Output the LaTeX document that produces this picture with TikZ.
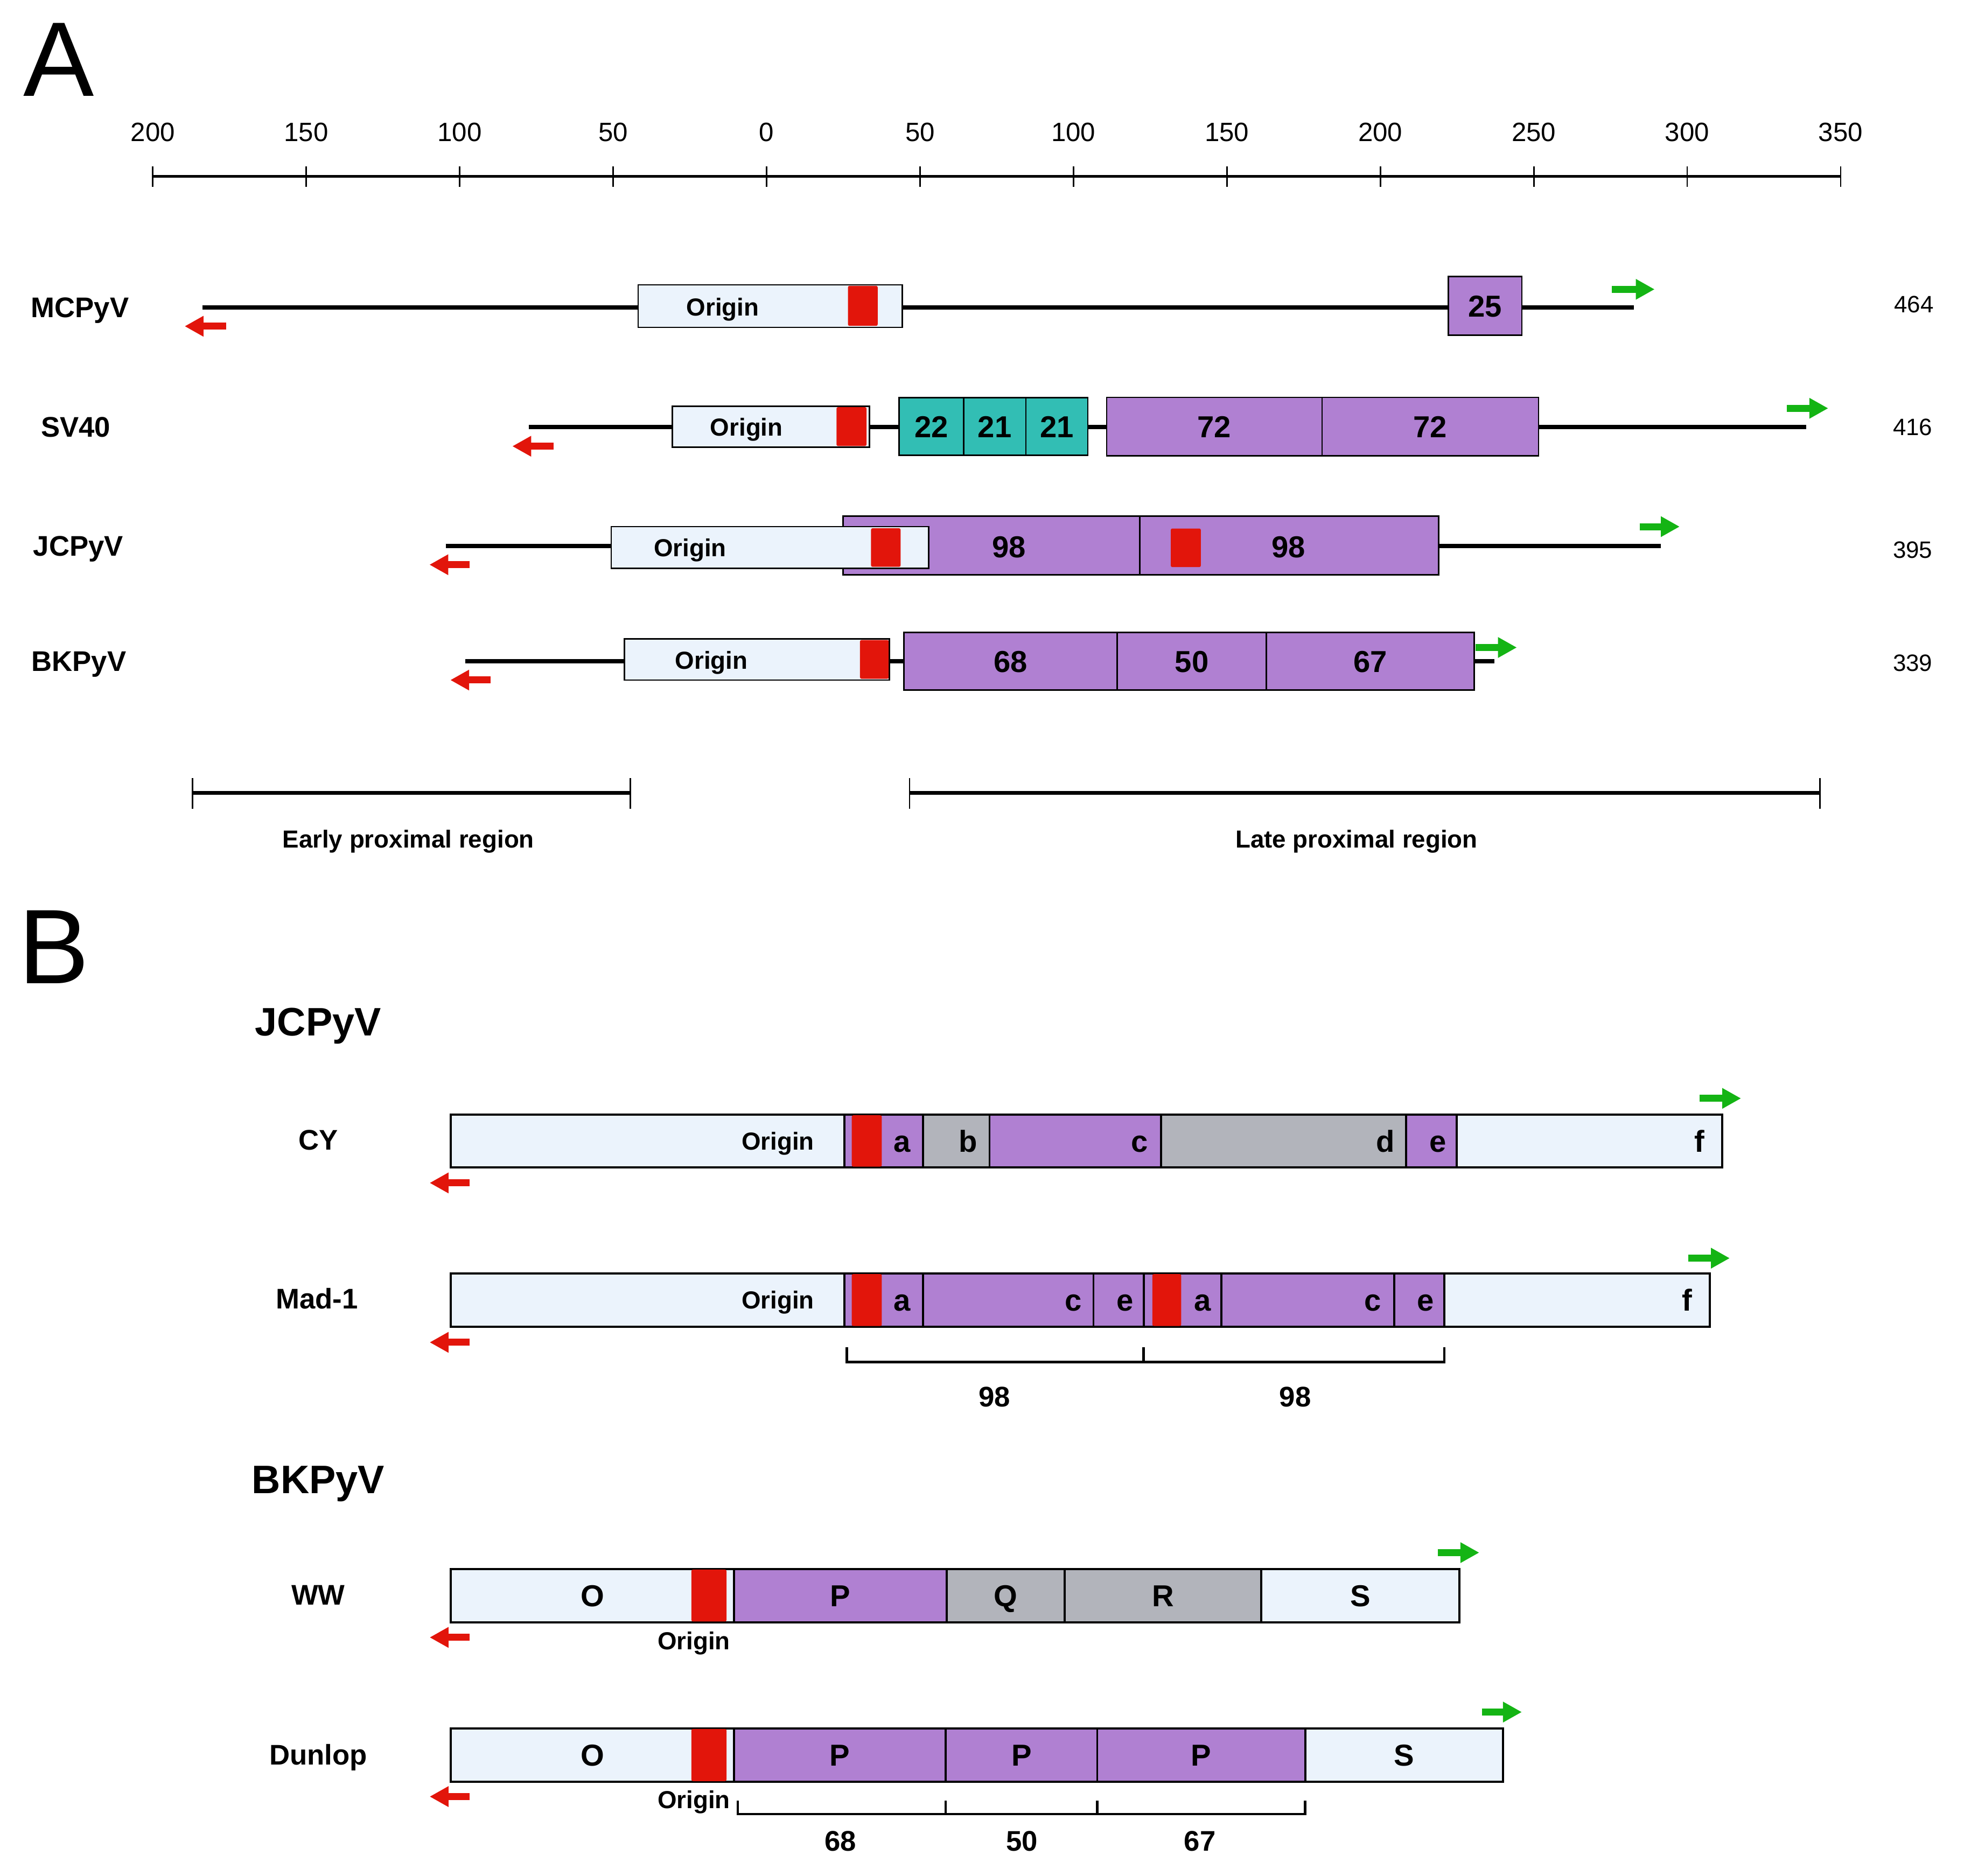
\documentclass[tikz,border=0pt]{standalone}
\usepackage{fontspec}
\setmainfont{Liberation Sans}
\usepackage{tikz}
\usetikzlibrary{arrows.meta}

\definecolor{oriblue}{RGB}{235,243,252}
\definecolor{orired}{RGB}{226,21,11}
\definecolor{enhpurple}{RGB}{176,128,210}
\definecolor{gcteal}{RGB}{50,190,180}
\definecolor{segray}{RGB}{178,180,187}
\definecolor{arrgreen}{RGB}{20,180,20}

% one unit of the picture in cm
\newcommand{\pxu}{0.023259cm}
% style, name, left, right, centre y, height, text
\newcommand{\seg}[7]{\node[#1, minimum width={(#4-#3)*\pxu}, minimum height={#6*\pxu}] (#2) at ({(#3+#4)/2},#5) {#7};}

\tikzset{
  every node/.style={inner sep=0pt},
  panel/.style={font=\fontsize{56}{60}\selectfont, text height=40.1pt, text depth=0pt},
  head/.style={font=\fontsize{21}{25}\selectfont\bfseries, text height=15pt, text depth=0pt},
  rowlab/.style={font=\fontsize{15}{18}\selectfont\bfseries, text height=10.7pt, text depth=0pt},
  axnum/.style={font=\fontsize{14}{17}\selectfont, text height=10pt, text depth=0pt},
  lenlab/.style={font=\fontsize{12.5}{15}\selectfont, text height=8.95pt, text depth=0pt},
  orilab/.style={font=\fontsize{13}{16}\selectfont\bfseries, text height=9.3pt, text depth=0pt},
  seglab/.style={font=\fontsize{16}{19}\selectfont\bfseries, text height=11.46pt, text depth=0pt},
  box/.style={draw=black, line width=0.8pt, seglab},
  ori/.style={box, fill=oriblue},
  enh/.style={box, fill=enhpurple},
  gc/.style={box, fill=gcteal},
  gap/.style={box, fill=segray},
  tata/.style={fill=orired, rounded corners=0.8pt},
  backbone/.style={line width=2.2pt},
  axis/.style={line width=1.4pt},
  tick/.style={line width=0.8pt},
  region/.style={line width=2pt},
  brk/.style={line width=1.3pt},
  earlyarr/.style={orired, line width=0.13cm, -{Triangle[width=0.36cm,length=0.35cm]}},
  latearr/.style={arrgreen, line width=0.13cm, -{Triangle[width=0.36cm,length=0.35cm]}},
}

\begin{document}
\begin{tikzpicture}[x=0.023259cm, y=-0.023259cm]
  \useasboundingbox (0,0) rectangle (1568,1497.5);

  % ---------- A ----------
  \node[panel] (pA) at (47,46.5) {A};

  % scale
  \coordinate (ax-s) at (122,141);
  \coordinate (ax-e) at (1469.5,141);
  \draw[axis] (ax-s) -- (ax-e);
  \foreach \lab [count=\i from 0] in {200,150,100,50,0,50,100,150,200,250,300,350} {
    \node[axnum] (n\i) at ({122+122.5*\i},105.5) {\lab};
    \draw[tick] ({122+122.5*\i},133) -- ({122+122.5*\i},149);
  }

  % MCPyV
  \node[rowlab] (mcpyv) at (63.8,245.5) {MCPyV};
  \coordinate (mc-s) at (161.5,245.5);
  \coordinate (mc-e) at (1304.6,245.5);
  \draw[backbone] (mc-s) -- (mc-e);
  \seg{ori}{mc-ori}{509.5}{720.5}{244.4}{34}{}
  \node[orilab] (mc-orit) at (577,245) {Origin};
  \seg{tata}{mc-tata}{677}{700.7}{244.2}{32}{}
  \seg{enh}{mc-25}{1156.3}{1215}{244.2}{47}{25}
  \draw[earlyarr] (180.6,260.5) -- (147.4,260.5);
  \draw[latearr] (1287,231) -- (1321,231);
  \node[lenlab] (mc-len) at (1528,243) {464};

  % SV40
  \node[rowlab] (sv40) at (60.5,341) {SV40};
  \coordinate (sv-s) at (422,341);
  \coordinate (sv-e) at (1442,341);
  \draw[backbone] (sv-s) -- (sv-e);
  \seg{ori}{sv-ori}{536.6}{694}{340.6}{32.7}{}
  \node[orilab] (sv-orit) at (596,341) {Origin};
  \seg{tata}{sv-tata}{667.8}{691.8}{340.6}{31}{}
  \seg{gc}{sv-22}{717.9}{769.4}{340.5}{46.3}{22}
  \seg{gc}{sv-21a}{769.4}{819}{340.5}{46.3}{21}
  \seg{gc}{sv-21b}{819}{868.5}{340.5}{46.3}{21}
  \seg{enh}{sv-72a}{883.5}{1055.5}{340.6}{46.6}{72}
  \seg{enh}{sv-72b}{1055.5}{1228.3}{340.6}{46.6}{72}
  \draw[earlyarr] (441.8,356.3) -- (409,356.3);
  \draw[latearr] (1426.5,326) -- (1459.6,326);
  \node[lenlab] (sv-len) at (1527,340.8) {416};

  % JCPyV
  \node[rowlab] (jcpyv) at (62.5,436) {JCPyV};
  \coordinate (jc-s) at (355.8,436);
  \coordinate (jc-e) at (1326,436);
  \draw[backbone] (jc-s) -- (jc-e);
  \seg{enh}{jc-98a}{673}{910}{435.6}{46.7}{}
  \seg{enh}{jc-98b}{910}{1148.4}{435.6}{46.7}{}
  \node[seglab] (jc-98at) at (805.7,436.4) {98};
  \node[seglab] (jc-98bt) at (1028.8,436.4) {98};
  \seg{ori}{jc-ori}{488}{741.5}{437.1}{33.3}{}
  \node[orilab] (jc-orit) at (551,437.5) {Origin};
  \seg{tata}{jc-tata1}{695.4}{719}{437.2}{30.8}{}
  \seg{tata}{jc-tata2}{934.7}{958.7}{437.4}{30.8}{}
  \draw[earlyarr] (375,450.9) -- (342.8,450.9);
  \draw[latearr] (1309,420.5) -- (1341,420.5);
  \node[lenlab] (jc-len) at (1527,439) {395};

  % BKPyV
  \node[rowlab] (bkpyv) at (63,528) {BKPyV};
  \coordinate (bk-s) at (371.5,528);
  \coordinate (bk-e) at (1193,528);
  \draw[backbone] (bk-s) -- (bk-e);
  \seg{ori}{bk-ori}{498.5}{710}{526.5}{33}{}
  \node[orilab] (bk-orit) at (568,527) {Origin};
  \seg{tata}{bk-tata}{686.6}{709.5}{526.5}{31}{}
  \seg{enh}{bk-68}{721.5}{892}{528}{46}{68}
  \seg{enh}{bk-50}{892}{1011}{528}{46}{50}
  \seg{enh}{bk-67}{1011}{1177}{528}{46}{67}
  \draw[earlyarr] (391.7,543) -- (359.5,543);
  \draw[latearr] (1178,517) -- (1211,517);
  \node[lenlab] (bk-len) at (1527,529) {339};

  % proximal regions
  \coordinate (ep-s) at (153.7,633.2);
  \coordinate (ep-e) at (503.2,633.2);
  \coordinate (lp-s) at (726.2,633.2);
  \coordinate (lp-e) at (1453,633.2);
  \draw[region] (ep-s) -- (ep-e);
  \draw[region] (lp-s) -- (lp-e);
  \foreach \x in {153.7,503.2,726.2,1453}
    \draw[tick] (\x,621.3) -- (\x,645.6);
  \node[orilab] (ep-lab) at (326,670) {Early proximal region};
  \node[orilab] (lp-lab) at (1083,670) {Late proximal region};

  % ---------- B ----------
  \node[panel] (pB) at (43,755) {B};
  \node[head] (jc-head) at (254,815.7) {JCPyV};

  \begin{scope}[box/.append style={line width=1.1pt}]
  % CY
  \node[rowlab] (cy) at (254,910) {CY};
  \seg{ori}{cy-o}{360}{674}{911}{42}{}
  \seg{enh}{cy-a}{674}{737}{911}{42}{}
  \seg{gap}{cy-b}{737}{790}{911}{42}{}
  \seg{enh}{cy-c}{790}{927}{911}{42}{}
  \seg{gap}{cy-d}{927}{1122.5}{911}{42}{}
  \seg{enh}{cy-e}{1122.5}{1163}{911}{42}{}
  \seg{ori}{cy-f}{1163}{1375}{911}{42}{}
  \seg{tata}{cy-tata}{680}{704}{911}{41}{}
  \node[orilab] (cy-orit) at (621,911) {Origin};
  \foreach \t/\x in {a/720,b/773,c/910,d/1106,e/1148,f/1357}
    \node[seglab] (cyl-\t) at (\x,911) {\t};
  \draw[latearr] (1357,877) -- (1390,877);
  \draw[earlyarr] (375,944.5) -- (343,944.5);

  % Mad-1
  \node[rowlab] (mad) at (253,1037) {Mad-1};
  \seg{ori}{md-o}{360}{674}{1038}{42.5}{}
  \seg{enh}{md-a1}{674}{737}{1038}{42.5}{}
  \seg{enh}{md-c1}{737}{873}{1038}{42.5}{}
  \seg{enh}{md-e1}{873}{913}{1038}{42.5}{}
  \seg{enh}{md-a2}{913}{975}{1038}{42.5}{}
  \seg{enh}{md-c2}{975}{1113}{1038}{42.5}{}
  \seg{enh}{md-e2}{1113}{1153}{1038}{42.5}{}
  \seg{ori}{md-f}{1153}{1365}{1038}{42.5}{}
  \seg{tata}{md-tata1}{680}{704}{1038}{41.5}{}
  \seg{tata}{md-tata2}{920}{943}{1038}{41.5}{}
  \node[orilab] (md-orit) at (621,1038) {Origin};
  \foreach \t/\x [count=\k] in {a/720,c/857,e/898,a/960,c/1096,e/1138,f/1347}
    \node[seglab] (mdl-\k) at (\x,1038) {\t};
  \draw[latearr] (1348,1004.6) -- (1381,1004.6);
  \draw[earlyarr] (375,1071.8) -- (343,1071.8);
  \draw[brk] (676,1075.6) -- (676,1087.6) -- (1153,1087.6) -- (1153,1075.6);
  \draw[brk] (913,1075.6) -- (913,1087.6);
  \node[rowlab] (md-98a) at (794,1115) {98};
  \node[rowlab] (md-98b) at (1034,1115) {98};

  \node[head] (bk-head) at (254,1181) {BKPyV};

  % WW
  \node[rowlab] (ww) at (254,1273.5) {WW};
  \seg{ori}{ww-o}{360}{586}{1274}{42.5}{O}
  \seg{enh}{ww-p}{586}{756}{1274}{42.5}{P}
  \seg{gap}{ww-q}{756}{850}{1274}{42.5}{Q}
  \seg{gap}{ww-r}{850}{1007}{1274}{42.5}{R}
  \seg{ori}{ww-s}{1007}{1165}{1274}{42.5}{S}
  \seg{tata}{ww-tata}{552}{580}{1274}{41.5}{}
  \node[orilab] (ww-orit) at (554,1310) {Origin};
  \draw[latearr] (1148,1239.7) -- (1181,1239.7);
  \draw[earlyarr] (375,1307.4) -- (343,1307.4);

  % Dunlop
  \node[rowlab] (dun) at (254,1401) {Dunlop};
  \seg{ori}{dn-o}{360}{586}{1401.3}{42.7}{O}
  \seg{enh}{dn-p1}{586}{755}{1401.3}{42.7}{P}
  \seg{enh}{dn-p2}{755}{876}{1401.3}{42.7}{P}
  \seg{enh}{dn-p3}{876}{1042}{1401.3}{42.7}{P}
  \seg{ori}{dn-s}{1042}{1200}{1401.3}{42.7}{S}
  \seg{tata}{dn-tata}{552}{580}{1401.3}{41.7}{}
  \node[orilab] (dn-orit) at (554,1436.7) {Origin};
  \draw[latearr] (1183,1367) -- (1215,1367);
  \draw[earlyarr] (375,1434.5) -- (343,1434.5);
  \draw[brk] (589,1437.8) -- (589,1448.5) -- (1042,1448.5) -- (1042,1437.8);
  \foreach \x in {755,876}
    \draw[brk] (\x,1437.8) -- (\x,1448.5);
  \node[rowlab] (dn-68) at (671,1470) {68};
  \node[rowlab] (dn-50) at (816,1470) {50};
  \node[rowlab] (dn-67) at (958,1470) {67};
  \end{scope}
\end{tikzpicture}
\end{document}
